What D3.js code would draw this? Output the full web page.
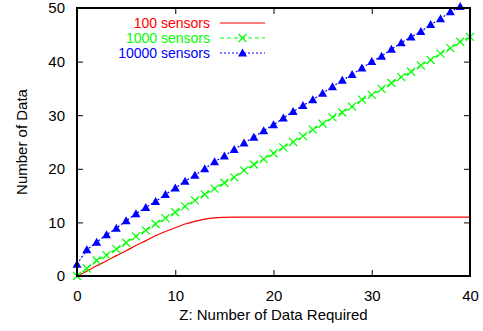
<!DOCTYPE html>
<html>
<head>
<meta charset="utf-8" />
<title>Sensors</title>
<script src="https://cdn.jsdelivr.net/npm/d3@7"></script>
<style>
  body { margin: 0; background: #fff; }
  text { font-family: "Liberation Sans", Arial, sans-serif; }
  .frame { fill: none; stroke: #000; stroke-width: 1.2px; shape-rendering: crispEdges; }
  .tick line { stroke: #000; }
</style>
</head>
<body>
<div id="chart"></div>
<script>
// data
var zValues = d3.range(0, 41);
var sensors100 = [0, 0.9, 1.9, 2.8, 3.8, 4.7, 5.7, 6.6, 7.5, 8.3, 9.0, 9.7, 10.2, 10.6, 10.85, 10.95,
  11, 11, 11, 11, 11, 11, 11, 11, 11, 11, 11, 11, 11, 11, 11, 11, 11, 11, 11, 11, 11, 11, 11, 11, 11];
var sensors1000 = [0, 1.4, 2.9, 3.9, 5.0, 6.2, 7.4, 8.5, 9.7, 10.8, 11.9, 13.0, 14.1, 15.2, 16.3, 17.4,
  18.4, 19.7, 20.8, 21.8, 22.9, 24.0, 25.0, 26.1, 27.3, 28.4, 29.6, 30.5, 31.6, 32.9, 33.8, 34.9, 36.0,
  37.1, 38.1, 39.3, 40.3, 41.5, 42.5, 43.7, 44.6];
var sensors10000 = [2.2, 4.9, 6.3, 7.7, 8.9, 10.3, 11.6, 12.8, 13.9, 15.2, 16.4, 17.7, 18.8, 20.0, 21.3,
  22.4, 23.6, 24.8, 25.9, 27.1, 28.2, 29.5, 30.7, 31.8, 32.9, 34.1, 35.3, 36.5, 37.6, 38.8, 40.0, 41.0,
  42.3, 43.5, 44.6, 45.6, 46.9, 48.0, 49.3, 50.3, 51.4];
var xTicks = [0, 10, 20, 30, 40];
var yTicks = [0, 10, 20, 30, 40, 50];
var seriesNames = ["100 sensors", "1000 sensors", "10000 sensors"];

var width = 483, height = 331;
var margin = {top: 8, right: 13, bottom: 55, left: 77};
var chartW = width - margin.left - margin.right,
    chartH = height - margin.top - margin.bottom;

var svg = d3.select("#chart").append("svg")
    .attr("width", width)
    .attr("height", height);

var x = d3.scaleLinear().domain([0, 40]).range([0, chartW]);
var y = d3.scaleLinear().domain([0, 50]).range([chartH, 0]);

var g = svg.append("g")
    .attr("transform", "translate(" + margin.left + "," + margin.top + ")");

svg.append("defs").append("clipPath").attr("id", "clip")
  .append("rect").attr("width", chartW).attr("height", chartH);

var series = [
  {name: seriesNames[0], values: sensors100, color: "#ff0000", dash: null, marker: null},
  {name: seriesNames[1], values: sensors1000, color: "#00ff00", dash: "4,3", marker: "x"},
  {name: seriesNames[2], values: sensors10000, color: "#0000ff", dash: "2,2", marker: "tri"}
];

// axes: ticks inward, mirrored on top/right
var fontSize = "15px";
g.append("g")
    .attr("transform", "translate(0," + chartH + ")")
    .call(d3.axisBottom(x).tickValues(xTicks).tickSizeInner(-6).tickSizeOuter(0).tickPadding(14))
    .call(function(a) { a.select(".domain").remove(); a.selectAll("text").style("font-size", fontSize).attr("fill", "#000"); });
g.append("g")
    .call(d3.axisTop(x).tickValues(xTicks).tickSizeInner(-6).tickSizeOuter(0).tickFormat(""))
    .call(function(a) { a.select(".domain").remove(); });
g.append("g")
    .call(d3.axisLeft(y).tickValues(yTicks).tickSizeInner(-6).tickSizeOuter(0).tickPadding(12))
    .call(function(a) { a.select(".domain").remove(); a.selectAll("text").style("font-size", fontSize).attr("fill", "#000"); });
g.append("g")
    .attr("transform", "translate(" + chartW + ",0)")
    .call(d3.axisRight(y).tickValues(yTicks).tickSizeInner(-6).tickSizeOuter(0).tickFormat(""))
    .call(function(a) { a.select(".domain").remove(); });

var line = d3.line()
    .x(function(d, i) { return x(zValues[i]); })
    .y(function(d) { return y(d); });

function drawMarker(sel, type, color) {
  if (type === "x") {
    sel.append("path")
      .attr("d", "M-4,-4L4,4M-4,4L4,-4")
      .attr("stroke", color).attr("stroke-width", 1.2).attr("fill", "none");
  } else if (type === "tri") {
    sel.append("path")
      .attr("d", "M0,-4.5L4.5,3.5L-4.5,3.5Z")
      .attr("fill", color);
  }
}

var plot = g.append("g").attr("clip-path", "url(#clip)");

series.forEach(function(s) {
  plot.append("path")
    .datum(s.values)
    .attr("fill", "none")
    .attr("stroke", s.color)
    .attr("stroke-width", 1.2)
    .attr("stroke-dasharray", s.dash)
    .attr("d", s.marker ? line : line.curve(d3.curveMonotoneX));
  line.curve(d3.curveLinear);
  if (s.marker) {
    g.selectAll(null)
      .data(s.values.filter(function(v) { return v <= 50.5; }))
      .enter().append("g")
      .attr("transform", function(d, i) { return "translate(" + x(zValues[i]) + "," + y(d) + ")"; })
      .each(function() { drawMarker(d3.select(this), s.marker, s.color); });
  }
});

// frame
g.append("rect").attr("class", "frame").attr("width", chartW).attr("height", chartH);

// legend
var legend = svg.append("g");
series.forEach(function(s, i) {
  var ly = 23 + i * 15;
  legend.append("text")
    .attr("x", 210).attr("y", ly).attr("dy", "0.35em")
    .attr("text-anchor", "end")
    .style("font-size", "14px")
    .attr("fill", s.color)
    .text(s.name);
  legend.append("line")
    .attr("x1", 220).attr("x2", 265).attr("y1", ly).attr("y2", ly)
    .attr("stroke", s.color).attr("stroke-width", 1.2)
    .attr("stroke-dasharray", s.dash);
  if (s.marker) {
    var m = legend.append("g").attr("transform", "translate(242.5," + ly + ")");
    drawMarker(m, s.marker, s.color);
  }
});

// axis titles
svg.append("text")
  .attr("x", margin.left + chartW / 2).attr("y", 320)
  .attr("text-anchor", "middle")
  .style("font-size", fontSize)
  .text("Z: Number of Data Required");
svg.append("text")
  .attr("transform", "translate(27," + (margin.top + chartH / 2) + ") rotate(-90)")
  .attr("text-anchor", "middle")
  .style("font-size", fontSize)
  .text("Number of Data");
</script>
</body>
</html>
